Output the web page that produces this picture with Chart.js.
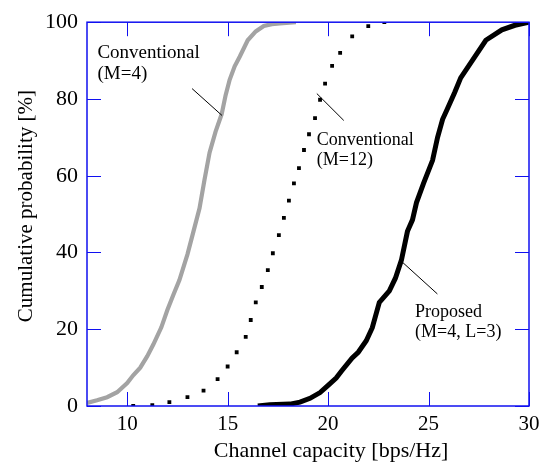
<!DOCTYPE html>
<html>
<head>
<meta charset="utf-8">
<script src="https://cdn.jsdelivr.net/npm/chart.js@4"></script>
<style>
  html, body { margin: 0; padding: 0; background: #fff; }
</style>
</head>
<body>
<canvas id="capacityChart" width="553" height="466"></canvas>
<script>
// Axis ticks
const X_TICKS = [10, 15, 20, 25, 30];
const Y_TICKS = [0, 20, 40, 60, 80, 100];
const X_TITLE = 'Channel capacity [bps/Hz]';
const Y_TITLE = 'Cumulative probability [%]';

// Conventional (M=4) — grey solid curve
const conv4X = [8.0, 8.5, 9.0, 9.5, 10.0, 10.3, 10.65, 11.0, 11.3, 11.7, 12.0, 12.3, 12.6, 13.0, 13.3, 13.6, 13.85, 14.1, 14.4, 14.7, 14.9, 15.1, 15.35, 15.6, 16.0, 16.4, 16.8, 17.2, 17.6, 18.4];
const conv4Y = [0.8, 1.5, 2.3, 3.6, 6, 8, 10, 13, 16, 20.5, 25, 29, 32.8, 39.5, 45.5, 51.5, 59, 66, 71.5, 76, 81, 85, 88.5, 91, 95.3, 97.6, 99, 99.5, 99.7, 100];

// Conventional (M=12) — dotted curve
const conv12X = [10.3, 11.25, 12.1, 13.0, 13.8, 14.5, 15.0, 15.45, 15.9, 16.15, 16.4, 16.7, 17.0, 17.25, 17.55, 17.8, 18.05, 18.3, 18.55, 18.8, 19.05, 19.35, 19.6, 19.85, 20.2, 20.6, 21.2, 22.0, 22.8];
const conv12Y = [0, 0.2, 1, 2.3, 4, 7, 10.3, 14, 18, 22.4, 27, 31, 35.4, 39.8, 44.5, 49, 53.5, 58, 62, 66.7, 70.8, 75, 79.8, 84, 88.6, 92, 96.3, 99, 100];

// Proposed (M=4, L=3) — black solid curve
const propX = [16.5, 17.1, 18.1, 18.6, 19.1, 19.6, 20.0, 20.4, 20.7, 21.2, 21.5, 21.9, 22.2, 22.55, 23.05, 23.35, 23.65, 23.95, 24.2, 24.4, 24.75, 25.2, 25.45, 25.7, 25.9, 26.3, 26.6, 27.2, 27.85, 28.65, 29.3, 30.0];
const propY = [0, 0.3, 0.5, 1, 2, 3.5, 5.4, 7.3, 9.3, 12.5, 14, 17, 20.4, 27, 30, 33.3, 38, 45.5, 48.5, 53, 58, 64, 70, 74.7, 77, 81.7, 85.5, 90.2, 95.3, 98, 99.2, 100];

// Curve labels (text anchor and leader line, in data units)
const labelLines = [['Conventional', '(M=4)'], ['Conventional', '(M=12)'], ['Proposed', '(M=4, L=3)']];
const labelAt    = [[8.52, 90.7], [19.44, 68.0], [24.33, 23.3]];
const leaderFrom = [[13.23, 82.7], [19.44, 81.4], [23.65, 37.7]];
const leaderTo   = [[14.72, 75.7], [20.78, 74.4], [25.44, 29.2]];
const labelSize  = [19, 18, 18];

const SERIF = "'Liberation Serif', 'Times New Roman', serif";
const FRAME = '#1010f0';

const pts = (xs, ys) => xs.map((x, i) => ({ x: x, y: ys[i] }));

// inward ticks on all four sides, blue frame, axis titles and curve labels
const framePlugin = {
    id: 'frameTicks',
    afterDraw(chart) {
        const { ctx, chartArea: a, scales: { x, y } } = chart;
        const len = 14;
        ctx.save();
        ctx.strokeStyle = FRAME;
        ctx.lineWidth = 1;
        ctx.beginPath();
        X_TICKS.forEach(v => {
            const px = Math.round(x.getPixelForValue(v)) + 0.5;
            ctx.moveTo(px, a.bottom); ctx.lineTo(px, a.bottom - len);
            ctx.moveTo(px, a.top);    ctx.lineTo(px, a.top + len);
        });
        Y_TICKS.forEach(v => {
            const py = Math.round(y.getPixelForValue(v)) + 0.5;
            ctx.moveTo(a.left, py);  ctx.lineTo(a.left + len, py);
            ctx.moveTo(a.right, py); ctx.lineTo(a.right - len, py);
        });
        ctx.stroke();
        ctx.lineWidth = 1.5;
        ctx.strokeRect(a.left, a.top, a.right - a.left, a.bottom - a.top);

        // axis titles (slightly off-centre in the original)
        ctx.fillStyle = '#000';
        ctx.textBaseline = 'alphabetic';
        ctx.textAlign = 'center';
        ctx.font = '22px ' + SERIF;
        ctx.fillText(X_TITLE, (a.left + a.right) / 2 + 23, a.bottom + 51);
        ctx.save();
        ctx.translate(a.left - 55.5, (a.top + a.bottom) / 2 - 8);
        ctx.rotate(-Math.PI / 2);
        ctx.font = '21px ' + SERIF;
        ctx.fillText(Y_TITLE, 0, 0);
        ctx.restore();

        // curve labels
        ctx.strokeStyle = '#000';
        ctx.lineWidth = 1;
        ctx.textAlign = 'left';
        labelLines.forEach((lines, i) => {
            const size = labelSize[i];
            ctx.font = size + 'px ' + SERIF;
            const lx = x.getPixelForValue(labelAt[i][0]);
            const ly = y.getPixelForValue(labelAt[i][1]);
            lines.forEach((t, k) => ctx.fillText(t, lx, ly + k * Math.round(size * 1.12)));
            ctx.beginPath();
            ctx.moveTo(x.getPixelForValue(leaderFrom[i][0]), y.getPixelForValue(leaderFrom[i][1]));
            ctx.lineTo(x.getPixelForValue(leaderTo[i][0]), y.getPixelForValue(leaderTo[i][1]));
            ctx.stroke();
        });
        ctx.restore();
    }
};

new Chart(document.getElementById('capacityChart'), {
    type: 'line',
    data: {
        datasets: [
            { label: 'Conventional (M=4)', data: pts(conv4X, conv4Y), borderColor: '#a3a3a3', borderWidth: 4.2, pointRadius: 0, tension: 0 },
            { label: 'Conventional (M=12)', data: pts(conv12X, conv12Y), showLine: false, pointStyle: 'rect', pointRadius: 2.7, pointBackgroundColor: '#000', pointBorderWidth: 0 },
            { label: 'Proposed (M=4, L=3)', data: pts(propX, propY), borderColor: '#000', borderWidth: 5, pointRadius: 0, tension: 0 }
        ]
    },
    options: {
        responsive: false,
        animation: false,
        layout: { padding: { top: 19, right: 24, left: 0, bottom: 0 } },
        plugins: { legend: { display: false }, tooltip: { enabled: false } },
        scales: {
            x: {
                type: 'linear', min: 8, max: 30,
                afterFit: s => { s.height = 60; },
                afterBuildTicks: s => { s.ticks = X_TICKS.map(v => ({ value: v })); },
                grid: { display: false, drawTicks: false },
                border: { display: false },
                ticks: { color: '#000', padding: 6, maxRotation: 0, font: { family: SERIF, size: 21 } }
            },
            y: {
                min: 0, max: 100,
                afterFit: s => { s.width = 87; },
                afterBuildTicks: s => { s.ticks = Y_TICKS.map(v => ({ value: v })); },
                grid: { display: false, drawTicks: false },
                border: { display: false },
                ticks: { color: '#000', padding: 9, font: { family: SERIF, size: 22 } }
            }
        }
    },
    plugins: [framePlugin]
});
</script>
</body>
</html>
